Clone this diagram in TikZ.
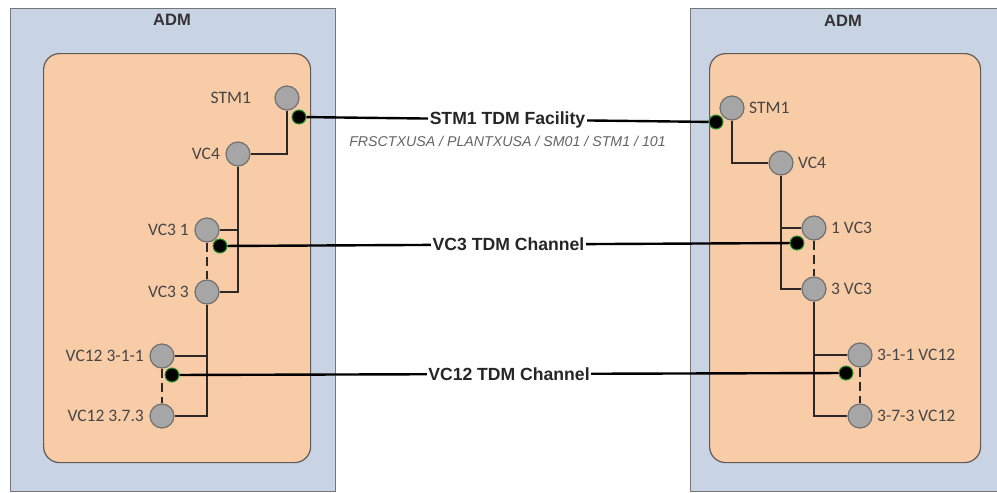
\documentclass[tikz,border=0pt]{standalone}
\usepackage{fontspec}
\setmainfont{Liberation Sans}
\newfontfamily\portfont{Carlito}
\usetikzlibrary{positioning}
\definecolor{admBlue}{RGB}{200, 212, 228}
\definecolor{admEdge}{RGB}{118, 118, 118}
\definecolor{cardOrange}{RGB}{249, 204, 168}
\definecolor{cardEdge}{RGB}{96, 90, 86}
\definecolor{portGrey}{RGB}{166, 166, 166}
\definecolor{portEdge}{RGB}{112, 112, 112}
\definecolor{wireInk}{RGB}{45, 40, 38}
\definecolor{termGreen}{RGB}{40, 150, 40}
\definecolor{pathGrey}{RGB}{100, 100, 100}
\definecolor{textGrey}{RGB}{70, 70, 70}
\tikzset{
    admbox/.style={draw=admEdge, fill=admBlue, line width=1.2pt, anchor=north west, minimum height=483pt, inner sep=0pt},
    cardbox/.style={draw=cardEdge, fill=cardOrange, line width=1.2pt, rounded corners=16pt, anchor=north west, minimum height=409pt, inner sep=0pt},
    admtitle/.style={font=\bfseries\fontsize{16.5}{18}\selectfont, text=black!80},
    port/.style={circle, draw=portEdge, fill=portGrey, line width=1.2pt, minimum size=24pt, inner sep=0pt},
    portlbl/.style={font=\portfont\fontsize{17.5}{19}\selectfont, text=textGrey},
    term/.style={circle, draw=termGreen, fill=black, line width=1pt, minimum size=14pt, inner sep=0pt},
    tree/.style={draw=wireInk, line width=1.3pt},
    link/.style={draw=black, line width=2.4pt},
    linklbl/.style={fill=white, inner sep=1.5pt, font=\bfseries\fontsize{17.6}{19}\selectfont, text=black!85}
}
\begin{document}
\begin{tikzpicture}[x=1pt, y=-1pt]
    \useasboundingbox (0,0) rectangle (997,493);
    \node[admbox, minimum width=325pt] (ladm) at (10,8) {};
    \node[admbox, minimum width=310pt] (radm) at (690,8) {};
    \node[admtitle] (ladmtitle) at (172,20) {ADM};
    \node[admtitle] (radmtitle) at (843,21) {ADM};
    \node[cardbox, minimum width=267pt] (lcard) at (43,53) {};
    \node[cardbox, minimum width=271pt] (rcard) at (709,53) {};

    \node[port, label={[portlbl, label distance=20pt]left:STM1}] (lstm) at (287,98) {};
    \node[port, label={[portlbl, label distance=2pt]left:VC4}] (lvc4) at (238,154) {};
    \node[port, label={[portlbl, label distance=2pt]left:VC3 1}] (lvc31) at (207,230) {};
    \node[port, label={[portlbl, label distance=2pt]left:VC3 3}] (lvc33) at (207,292) {};
    \node[port, label={[portlbl, label distance=2pt]left:VC12 3-1-1}] (lvc12a) at (162,356) {};
    \node[port, label={[portlbl, label distance=2pt]left:VC12 3.7.3}] (lvc12b) at (162,416) {};

    \node[port, label={[portlbl, label distance=1pt]right:STM1}] (rstm) at (732,108) {};
    \node[port, label={[portlbl, label distance=1pt]right:VC4}] (rvc4) at (781,163) {};
    \node[port, label={[portlbl, label distance=1pt]right:1 VC3}] (rvc31) at (814,228) {};
    \node[port, label={[portlbl, label distance=1pt]right:3 VC3}] (rvc33) at (814,289) {};
    \node[port, label={[portlbl, label distance=1pt]right:3-1-1 VC12}] (rvc12a) at (860,355) {};
    \node[port, label={[portlbl, label distance=1pt]right:3-7-3 VC12}] (rvc12b) at (860,416) {};

    \draw[tree] (lstm.south) |- (lvc4.east);
    \draw[tree] (lvc4.south) |- (lvc33.east);
    \draw[tree] (lvc31.east) -- (lvc31.east -| lvc4.south);
    \draw[tree] (lvc33.south) |- (lvc12b.east);
    \draw[tree] (lvc12a.east) -- (lvc12a.east -| lvc33.south);
    \draw[tree, dash pattern=on 9pt off 5pt] (lvc31.south) -- (lvc33.north);
    \draw[tree, dash pattern=on 9pt off 5pt] (lvc12a.south) -- (lvc12b.north);

    \draw[tree] (rstm.south) |- (rvc4.west);
    \draw[tree] (rvc4.south) |- (rvc33.west);
    \draw[tree] (rvc31.west) -- (rvc31.west -| rvc4.south);
    \draw[tree] (rvc33.south) |- (rvc12b.west);
    \draw[tree] (rvc12a.west) -- (rvc12a.west -| rvc33.south);
    \draw[tree, dash pattern=on 9pt off 5pt] (rvc31.south) -- (rvc33.north);
    \draw[tree, dash pattern=on 9pt off 5pt] (rvc12a.south) -- (rvc12b.north);

    \node[term] (lstmend) at (299,117) {};
    \node[term] (lvc3end) at (220,246) {};
    \node[term] (lvc12end) at (172,375) {};
    \node[term] (rstmend) at (716,122) {};
    \node[term] (rvc3end) at (797,243) {};
    \node[term] (rvc12end) at (846,373) {};

    \draw[link] (lstmend) -- node[linklbl] (stmlbl) {STM1 TDM Facility} (rstmend);
    \draw[link] (lvc3end) -- node[linklbl] (vc3lbl) {VC3 TDM Channel} (rvc3end);
    \draw[link] (lvc12end) -- node[linklbl] (vc12lbl) {VC12 TDM Channel} (rvc12end);
    \node[below=2pt of stmlbl, font=\itshape\fontsize{14.2}{16}\selectfont, text=pathGrey] (stmpath) {FRSCTXUSA / PLANTXUSA / SM01 / STM1 / 101};
\end{tikzpicture}
\end{document}
